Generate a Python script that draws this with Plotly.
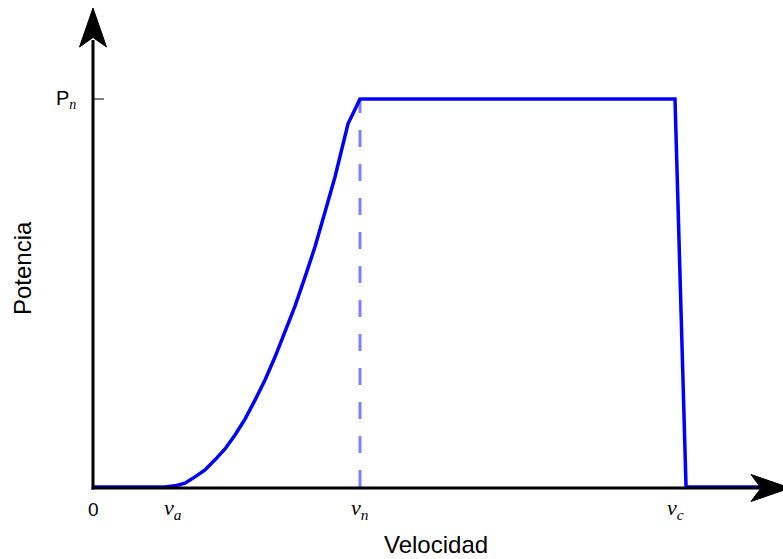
import plotly.graph_objects as go

# ---- data ----
speed = [0, 3.0, 3.417, 3.833, 4.25, 4.667, 5.083, 5.5, 5.917, 6.333, 6.75, 7.167, 7.583,
         8.0, 8.417, 8.833, 9.25, 9.667, 10.083, 10.625, 11.125, 24.25, 24.71, 28.75]
power = [0, 0, 0.003, 0.010, 0.026, 0.044, 0.070, 0.098, 0.134, 0.175, 0.224, 0.276, 0.335,
         0.399, 0.466, 0.541, 0.619, 0.709, 0.799, 0.936, 1.0, 1.0, 0, 0]
v_a, v_n, v_c = 3.33, 11.125, 24.25
P_n = 1.0
x_ticks = [0, v_a, v_n, v_c]
x_tick_text = ["0", "<i>v</i><sub><i>a</i></sub>", "<i>v</i><sub><i>n</i></sub>", "<i>v</i><sub><i>c</i></sub>"]
y_tick_text = "P<sub><span style='font-family:Liberation Serif'><i>n</i></span></sub>"

# ---- layout geometry (pixels) ----
W, H = 783, 559
L, R, T, B = 80, 0, 0, 59
PW, PH = W - L - R, H - T - B
def xp(px):
    return (px - L) / PW
def yp(py):
    return (H - B - py) / PH

fig = go.Figure()
fig.add_trace(go.Scatter(x=[v_n, v_n], y=[0, P_n], mode="lines",
                         line=dict(color="rgba(0,0,255,0.5)", width=3, dash="17px,17px"),
                         hoverinfo="skip", showlegend=False))
fig.add_trace(go.Scatter(x=speed, y=power, mode="lines",
                         line=dict(color="#0000ff", width=3.5),
                         showlegend=False))

shapes = []
# axis lines
shapes.append(dict(type="line", xref="paper", yref="paper", layer="above",
                   x0=xp(93), y0=yp(489.5), x1=xp(93), y1=yp(40),
                   line=dict(color="black", width=3)))
shapes.append(dict(type="line", xref="paper", yref="paper", layer="above",
                   x0=xp(91.5), y0=yp(488), x1=xp(760), y1=yp(488),
                   line=dict(color="black", width=3)))
# arrowheads
def path(pts):
    return "M " + " L ".join(f"{xp(a):.5f},{yp(b):.5f}" for a, b in pts) + " Z"
shapes.append(dict(type="path", xref="paper", yref="paper", layer="above",
                   path=path([(93, 8), (106.5, 47), (93, 37.5), (79.5, 47)]),
                   fillcolor="black", line=dict(color="black", width=1)))
shapes.append(dict(type="path", xref="paper", yref="paper", layer="above",
                   path=path([(790, 488), (751, 501.5), (761, 488), (751, 474.5)]),
                   fillcolor="black", line=dict(color="black", width=1)))
# P_n tick
shapes.append(dict(type="line", xref="paper", yref="y", layer="above",
                   x0=xp(93), x1=xp(104), y0=P_n, y1=P_n,
                   line=dict(color="black", width=1)))

annotations = []
sans = "Liberation Sans, Arial, sans-serif"
serif = "Liberation Serif, DejaVu Serif, serif"
for xv, txt in zip(x_ticks, x_tick_text):
    annotations.append(dict(x=xv, y=0, xref="x", yref="y", text=txt, showarrow=False,
                            xanchor="center", yanchor="middle", yshift=-22,
                            font=dict(family=sans if txt == "0" else serif,
                                      size=19 if txt == "0" else 22, color="black")))
annotations.append(dict(x=xp(78), y=P_n, xref="paper", yref="y",
                        text=y_tick_text,
                        showarrow=False, xanchor="right", yanchor="middle",
                        font=dict(family=sans, size=20, color="black")))
annotations.append(dict(x=xp(436), y=yp(544), xref="paper", yref="paper", text="Velocidad",
                        showarrow=False, xanchor="center", yanchor="middle",
                        font=dict(family=sans, size=24, color="black")))
annotations.append(dict(x=xp(22), y=yp(268), xref="paper", yref="paper", text="Potencia",
                        showarrow=False, xanchor="center", yanchor="middle", textangle=-90,
                        font=dict(family=sans, size=24, color="black")))

fig.update_layout(
    width=W, height=H,
    margin=dict(l=L, r=R, t=T, b=B, pad=0),
    paper_bgcolor="white", plot_bgcolor="white",
    xaxis=dict(range=[-13 / 24, (W - 93) / 24], visible=False, showgrid=False, zeroline=False),
    yaxis=dict(range=[-13 / 388, 487 / 388], visible=False, showgrid=False, zeroline=False),
    shapes=shapes, annotations=annotations, showlegend=False,
)
fig.write_html("out.html")
